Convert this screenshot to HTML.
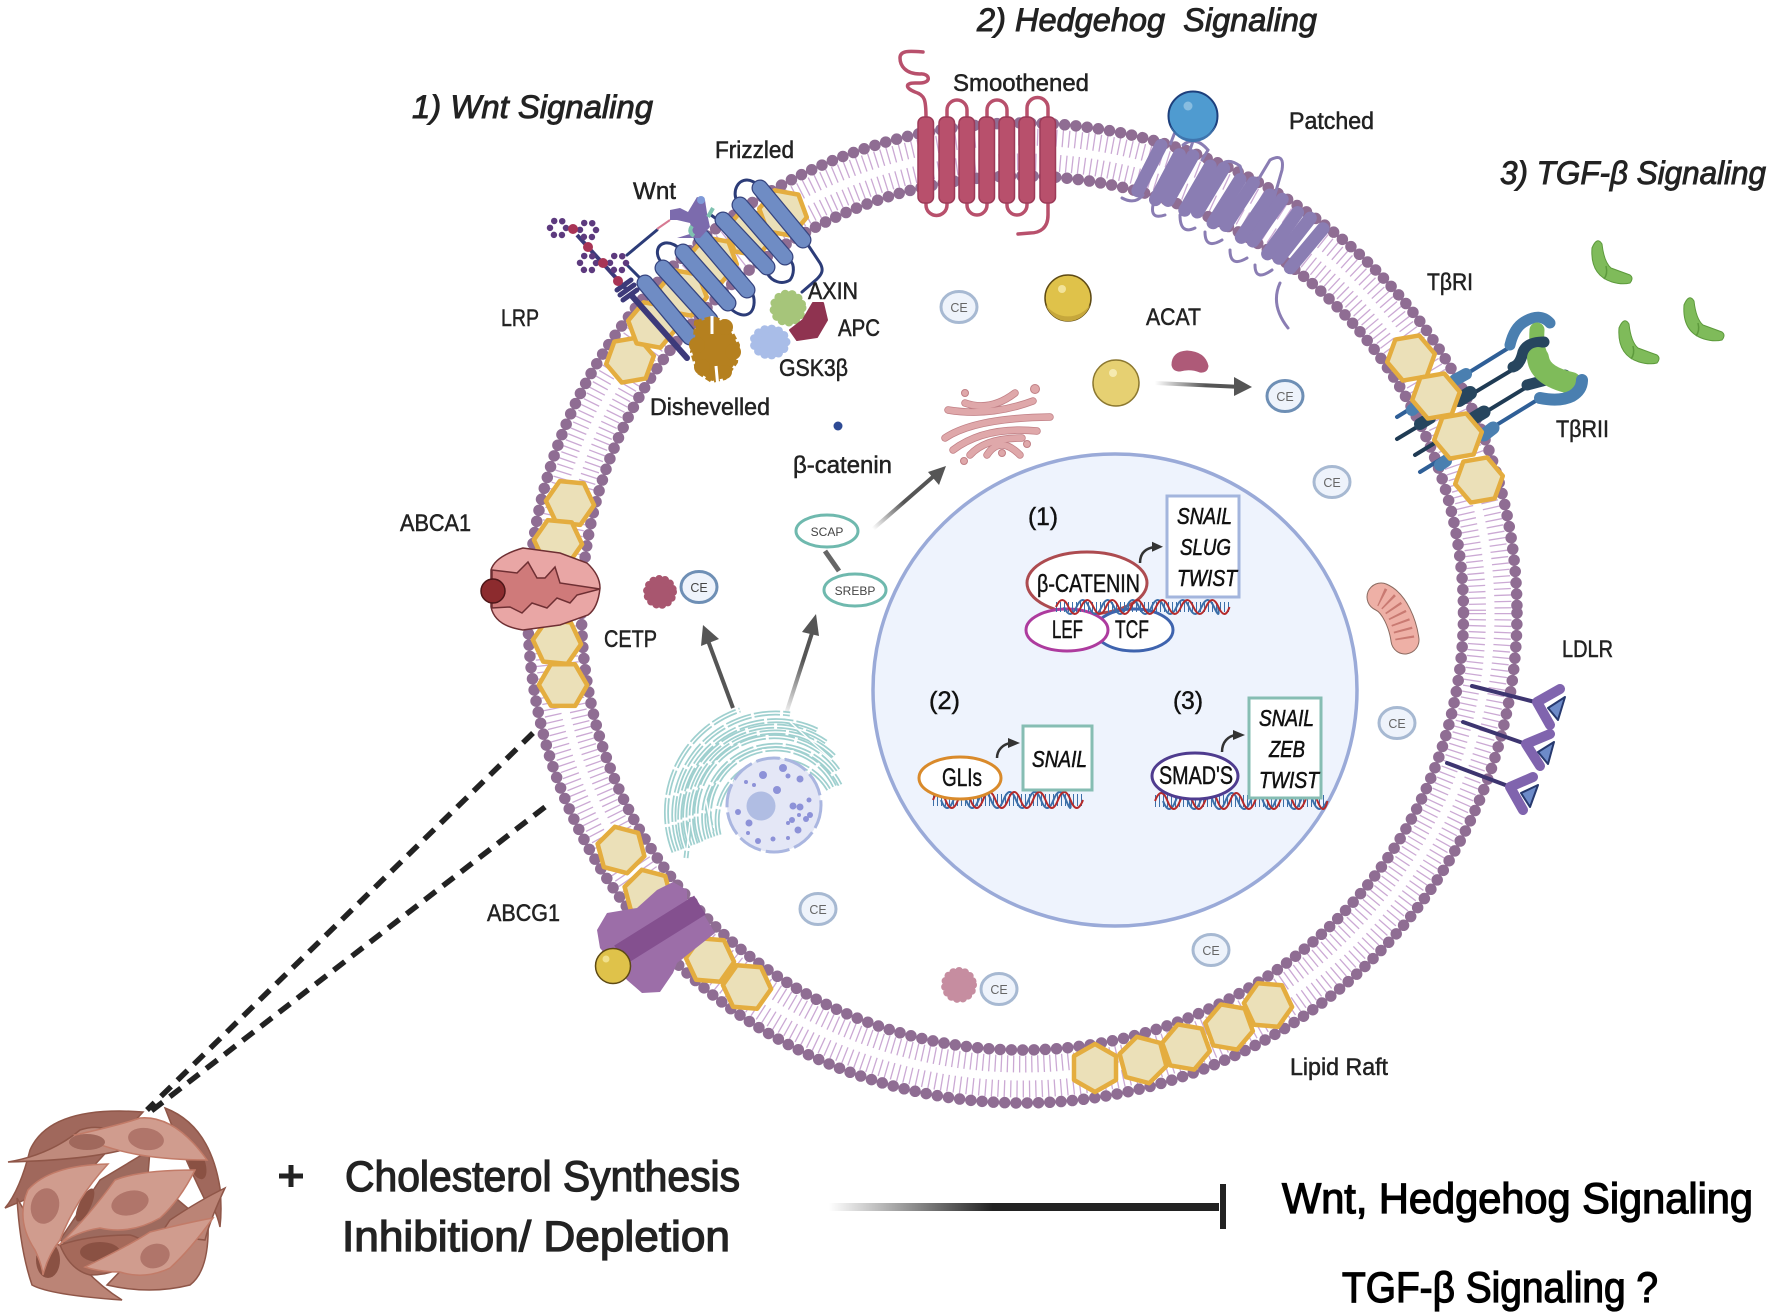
<!DOCTYPE html>
<html><head><meta charset="utf-8"><style>
html,body{margin:0;padding:0;background:#fff}
svg{display:block}
text{font-family:"Liberation Sans",sans-serif;fill:#222}
.l{font-size:24px;stroke:#222;stroke-width:.5}
.t{font-size:32px;font-style:italic;stroke:#222;stroke-width:.9}
.b{font-size:43px;stroke:#222;stroke-width:1.3}
.n{font-size:25px;fill:#111;stroke:#111;stroke-width:.45}
.i{font-size:23px;font-style:italic;fill:#111;stroke:#111;stroke-width:.55}
.ce{font-size:12.5px;fill:#666;text-anchor:middle}
.c{fill:#eef3fb;stroke:#a7b9d2;stroke-width:3}
.s{fill:#fff;stroke:#6fb9ae;stroke-width:3}
</style></head><body>
<svg width="1772" height="1313" viewBox="0 0 1772 1313" xmlns="http://www.w3.org/2000/svg">
<defs>
<linearGradient id="g1" gradientUnits="userSpaceOnUse" x1="873" y1="529" x2="935" y2="475"><stop offset="0" stop-color="#fff"/><stop offset=".5" stop-color="#555"/></linearGradient>
<linearGradient id="g2" gradientUnits="userSpaceOnUse" x1="1155" y1="383" x2="1240" y2="387"><stop offset="0" stop-color="#fff"/><stop offset=".6" stop-color="#555"/></linearGradient>
<linearGradient id="g3" gradientUnits="userSpaceOnUse" x1="785" y1="717" x2="810" y2="635"><stop offset="0" stop-color="#fff"/><stop offset=".7" stop-color="#555"/></linearGradient>
<linearGradient id="g4" gradientUnits="userSpaceOnUse" x1="829" y1="1207" x2="1219" y2="1207"><stop offset="0" stop-color="#fff"/><stop offset=".42" stop-color="#222"/></linearGradient>
<polygon id="h" points="0,-24 21,-12 21,12 0,24 -21,12 -21,-12" fill="#ebe0b8" stroke="#e4ad3f" stroke-width="4.5" stroke-linejoin="round"/>
<g id="fz" fill="none" stroke-linecap="round">
<path d="M760 188L803 240M740 205L785 257M723 220L767 267M702 237L747 290M683 252L728 303M663 268L710 320M645 283L690 337"/>
</g>
<g id="er" fill="none">
<path d="M719 835A60 60 0 0 1 829 790M713 837A66 66 0 0 1 835 787M707 839A72 72 0 0 1 840 785M701 842A78 78 0 0 1 838 770M696 844A84 84 0 0 1 834 756M690 846A90 90 0 0 1 826 742M685 848A96 96 0 0 1 817 730M680 850A102 102 0 0 1 790 714M674 852A108 108 0 0 1 740 710"/>
<path d="M690 822L686 858M706 800L712 832M790 722L832 760"/>
</g>
<g id="gol" fill="none" stroke-linecap="round">
<path d="M965 403Q990 412 1015 393M948 410Q990 417 1033 401M945 438Q975 418 1050 417M953 450Q985 426 1037 431M970 455Q985 438 1022 438M987 455Q1000 435 1020 455"/>
</g>
<g id="cr"><path d="M1592 248Q1590 275 1612 282Q1622 285 1630 283Q1634 278 1630 275L1611 268Q1604 262 1602 244Q1597 236 1592 248Z" fill="#7fbb5a" stroke="#5d9a3c" stroke-width="1"/><path d="M1606 266Q1608 274 1604 279" fill="none" stroke="#5d9a3c" stroke-width="1.500"/></g>
</defs>
<rect width="1772" height="1313" fill="#fff"/>

<!-- membrane -->
<ellipse cx="1022.5" cy="613" rx="480.5" ry="476" fill="none" stroke="#cba9d4" stroke-width="17" stroke-dasharray="1.300 5"/>
<ellipse cx="1022.5" cy="613" rx="455" ry="451" fill="none" stroke="#cba9d4" stroke-width="17" stroke-dasharray="1.300 4.800"/>
<ellipse cx="1022.5" cy="613" rx="494.5" ry="490" fill="none" stroke="#8f6d93" stroke-width="11.500" stroke-dasharray="0 11.3" stroke-linecap="round"/>
<ellipse cx="1022.5" cy="613" rx="441" ry="437" fill="none" stroke="#8f6d93" stroke-width="11.500" stroke-dasharray="0 11.3" stroke-linecap="round"/>

<!-- rafts -->
<use href="#h" transform="translate(630 360) rotate(20)"/><use href="#h" transform="translate(652 325) rotate(40)"/>
<use href="#h" transform="translate(683 293) rotate(40)"/><use href="#h" transform="translate(713 260) rotate(40)"/>
<use href="#h" transform="translate(750 233) rotate(40)"/><use href="#h" transform="translate(783 213) rotate(40)"/>
<use href="#h" transform="translate(570 503) rotate(35)"/><use href="#h" transform="translate(558 542) rotate(35)"/>
<use href="#h" transform="translate(557 642) rotate(35)"/><use href="#h" transform="translate(563 685) rotate(30)"/>
<use href="#h" transform="translate(621 850) rotate(-15)"/><use href="#h" transform="translate(648 893) rotate(-15)"/>
<use href="#h" transform="translate(710 960) rotate(-25)"/><use href="#h" transform="translate(747 987) rotate(-25)"/>
<use href="#h" transform="translate(1095 1068)"/><use href="#h" transform="translate(1143 1060) rotate(-15)"/>
<use href="#h" transform="translate(1186 1047) rotate(-20)"/><use href="#h" transform="translate(1229 1027) rotate(-20)"/>
<use href="#h" transform="translate(1268 1005) rotate(-25)"/>

<!-- TGF receptors -->
<g fill="none" stroke-linecap="round">
<path d="M1397 417L1510 347" stroke="#2f5f97" stroke-width="4"/>
<path d="M1397 439L1517 367M1415 455L1530 385" stroke="#1f3b54" stroke-width="4"/>
<path d="M1420 472L1542 397" stroke="#2f5f97" stroke-width="4"/>
<path d="M1510 345Q1514 328 1524 322Q1540 312 1550 323" stroke="#4a7fb0" stroke-width="11"/>
<path d="M1527 385L1565 375" stroke="#27465f" stroke-width="11"/>
<path d="M1537 330Q1536 345 1539 352" stroke="#7fbb5a" stroke-width="15"/>
<path d="M1513 367Q1520 365 1523 352Q1527 342 1544 342" stroke="#27465f" stroke-width="11"/>
<path d="M1538 358Q1540 376 1571 383" stroke="#7fbb5a" stroke-width="22"/>
<path d="M1540 398Q1560 402 1572 396Q1582 390 1582 380" stroke="#4a7fb0" stroke-width="12"/>
<path d="M1455 380L1466 374" stroke="#4a7fb0" stroke-width="12"/><path d="M1459 400L1470 393" stroke="#27465f" stroke-width="14"/>
<path d="M1474 418L1484 412" stroke="#27465f" stroke-width="13"/><path d="M1484 435L1493 428" stroke="#4a7fb0" stroke-width="13"/>
<path d="M1412 410L1418 405" stroke="#4a7fb0" stroke-width="12"/><path d="M1420 424L1430 418" stroke="#27465f" stroke-width="12"/>
<path d="M1440 465L1446 461" stroke="#4a7fb0" stroke-width="12"/>
</g>
<use href="#h" transform="translate(1411 358) rotate(20)"/><use href="#h" transform="translate(1436 396) rotate(20)"/>
<use href="#h" transform="translate(1458 436) rotate(20)"/><use href="#h" transform="translate(1479 480) rotate(20)"/>
<use href="#cr"/><use href="#cr" transform="translate(27 80)"/><use href="#cr" transform="translate(92 57)"/>

<!-- Smoothened -->
<g fill="none" stroke="#b8506c" stroke-width="3.5" stroke-linecap="round">
<path d="M926 118C926 100 925 95 915 92C905 88 905 83 915 83L920 83C932 83 930 73 920 74C905 74 900 65 900 58C900 50 910 51 923 52"/>
<path d="M947 120V110A10 10 0 0 1 967 110V120M987 120V110A10 10 0 0 1 1007 110V120M1027 120V108A10.500 10.500 0 0 1 1048 108V120"/>
<path d="M926 200V205A10.500 10.500 0 0 0 947 205V200M967 200V205A10 10 0 0 0 987 205V200M1007 200V205A10 10 0 0 0 1027 205V200"/>
<path d="M1048 203V215C1048 228 1040 233 1030 233L1018 234"/>
</g>
<g fill="#b8506c" stroke="#9c3a58" stroke-width="1.500">
<rect x="918" y="117" width="15.500" height="86" rx="6"/><rect x="939" y="117" width="15.500" height="86" rx="6"/><rect x="959" y="117" width="15.500" height="86" rx="6"/><rect x="979" y="117" width="15.500" height="86" rx="6"/><rect x="999" y="117" width="15.500" height="86" rx="6"/><rect x="1019" y="117" width="15.500" height="86" rx="6"/><rect x="1040" y="117" width="15.500" height="86" rx="6"/>
</g>

<!-- Patched -->
<g fill="none" stroke="#8a7db3" stroke-width="3" stroke-linecap="round">
<path d="M1183 145Q1195 135 1208 150L1202 160"/>
<path d="M1218 170Q1225 155 1240 166Q1243 172 1240 185"/>
<path d="M1255 185L1270 160Q1285 152 1282 170L1272 205"/>
<path d="M1122 198Q1135 205 1143 195M1153 205Q1150 220 1165 215M1180 215Q1180 235 1195 228M1205 232Q1205 250 1222 240M1230 250Q1230 268 1247 258M1255 265Q1255 282 1272 270"/>
<path d="M1280 283Q1270 305 1288 328"/>
</g>
<g fill="#8a7db3">
<rect x="-6.500" y="-33" width="13" height="64" rx="6.500" transform="translate(1149 169) rotate(27)"/>
<rect x="-6.500" y="-33" width="13" height="64" rx="6.500" transform="translate(1167 178) rotate(28)"/>
<rect x="-6.500" y="-33" width="13" height="64" rx="6.500" transform="translate(1180 179) rotate(29)"/>
<rect x="-6.500" y="-33" width="13" height="64" rx="6.500" transform="translate(1197 189) rotate(30)"/>
<rect x="-6.500" y="-33" width="13" height="64" rx="6.500" transform="translate(1210 191) rotate(31)"/>
<rect x="-6.500" y="-33" width="13" height="64" rx="6.500" transform="translate(1226 202) rotate(32)"/>
<rect x="-6.500" y="-33" width="13" height="64" rx="6.500" transform="translate(1239 205) rotate(33)"/>
<rect x="-6.500" y="-33" width="13" height="64" rx="6.500" transform="translate(1255 217) rotate(34)"/>
<rect x="-6.500" y="-33" width="13" height="64" rx="6.500" transform="translate(1267 221) rotate(35)"/>
<rect x="-6.500" y="-33" width="13" height="64" rx="6.500" transform="translate(1282 234) rotate(36)"/>
<rect x="-6.500" y="-33" width="13" height="64" rx="6.500" transform="translate(1294 239) rotate(38)"/>
<rect x="-6.500" y="-33" width="13" height="64" rx="6.500" transform="translate(1306 249) rotate(40)"/>
</g>
<path d="M1170 145L1175 132M1190 150L1195 135" stroke="#8a7db3" stroke-width="3"/>
<circle cx="1193" cy="116" r="24.500" fill="#4f9bd0" stroke="#1d3f7c" stroke-width="2"/>
<path d="M1170 125A24 24 0 0 0 1216 125A26 26 0 0 1 1170 125Z" fill="#3f75ae"/>
<circle cx="1188" cy="106" r="4.500" fill="#88bde0"/>

<!-- Wnt / LRP / Frizzled -->
<g fill="none" stroke="#2c3c78" stroke-width="3" stroke-linecap="round">
<path d="M737 202C732 190 738 180 747 180C752 180 757 184 760 187"/>
<path d="M662 263C655 255 656 245 665 243C672 242 678 247 681 250"/>
<path d="M730 308C736 314 745 318 751 312C755 307 755 298 752 293"/>
<path d="M790 260C795 265 794 275 790 280C782 285 772 282 767 273"/>
<path d="M808 245L820 263C824 270 822 274 817 279L802 292"/>
<path d="M627 255L657 230"/><path d="M627 265L645 283"/>
<path d="M711 215L725 225"/>
</g>
<path d="M657 229L670 220" stroke="#d77a92" stroke-width="2"/>
<use href="#fz" stroke="#36447f" stroke-width="17"/>
<use href="#fz" stroke="#6f8cc4" stroke-width="14.500"/>
<path d="M670 210L680 208L688 212L697 197L705 200L707 213L710 227L700 238L677 238L693 233L690 223L677 220L670 220Z" fill="#7c6bad"/>
<circle cx="701" cy="200" r="4" fill="#7f9ad8"/>
<path d="M692 226Q688 232 694 236" stroke="#7fc2b0" stroke-width="4" fill="none"/>
<path d="M708 217L713 208" stroke="#7fc2b0" stroke-width="4"/>
<path d="M577 235L627 290" stroke="#3d3a7a" stroke-width="4"/>
<path d="M632 296L687 358" stroke="#3d3a7a" stroke-width="6" stroke-linecap="round"/>
<g fill="none" stroke="#3d3a7a" stroke-width="5" stroke-linecap="round"><path d="M617 290L631 280M620 295L634 285M623 300L637 290"/></g>
<g fill="none" stroke="#5d3a7e" stroke-width="6.500" stroke-dasharray="0 8.380" stroke-linecap="round">
<circle cx="558" cy="228" r="8"/><circle cx="588" cy="230" r="8"/><circle cx="588" cy="263" r="8"/><circle cx="618" cy="263" r="8"/>
</g>
<g fill="#a83455"><circle cx="573" cy="229" r="5"/><circle cx="588" cy="247" r="5"/><circle cx="603" cy="263" r="5"/><circle cx="618" cy="281" r="5"/></g>

<!-- Wnt complex blobs -->
<g fill="#b5801f"><path d="M696 322L712 318L726 322L738 345L736 362L725 378L712 381L698 372L692 352L695 340Z" stroke="#b5801f" stroke-width="4" stroke-dasharray="6 3" stroke-linejoin="round"/><circle cx="697" cy="345" r="8"/><circle cx="733" cy="352" r="8"/><circle cx="702" cy="367" r="8"/><circle cx="725" cy="372" r="7"/><circle cx="725" cy="327" r="8"/></g>
<path d="M712 316L712 334M718 388L716 366" stroke="#fff" stroke-width="3"/>
<ellipse cx="770" cy="342" rx="16" ry="13" fill="#a9bde8" stroke="#a9bde8" stroke-width="9" stroke-dasharray="0 7" stroke-linecap="round"/>
<circle cx="788" cy="308" r="14" fill="#a6c57a" stroke="#a6c57a" stroke-width="9" stroke-dasharray="0 7" stroke-linecap="round"/>
<path d="M790 330L803 320L813 303L823 303L827 320L817 337L797 340Z" fill="#8f3350" stroke="#8f3350" stroke-width="2" stroke-linejoin="round"/>

<!-- ABCA1 -->
<path d="M491 570Q495 556 523 548L560 553L587 563Q600 575 600 588Q598 608 588 615L560 625L523 630Q495 626 491 607Z" fill="#e9a6a5" stroke="#6e2f33" stroke-width="1.500"/>
<path d="M492 570L517 573L528 562L537 578L545 578L555 567L560 583L600 589L577 595L570 603L557 598L547 608L532 603L522 613L510 607L492 608Z" fill="#cf7a7a" stroke="#6e2f33" stroke-width="1.500"/>
<circle cx="493" cy="591" r="12" fill="#8c2b2e" stroke="#4d1618" stroke-width="1.500"/>

<!-- ABCG1 -->
<path d="M607 913L637 908L657 890L673 882L687 890L687 903L703 913L715 933L677 963L673 973L660 992L642 993L627 980L600 948L597 930Z" fill="#9c6ea8"/>
<path d="M620 955L700 905" stroke="#84508f" stroke-width="22"/>
<circle cx="613" cy="966" r="17.500" fill="#dfc24a" stroke="#5e4a14" stroke-width="1.500"/>
<circle cx="606" cy="959" r="3.500" fill="#f0e08c"/>

<!-- LDLR -->
<path d="M1472 686L1535 702M1463 722L1523 743M1447 763L1508 786" stroke="#3d3570" stroke-width="4" stroke-linecap="round"/>
<g fill="none" stroke="#8064ae" stroke-width="10" stroke-linecap="round" stroke-linejoin="round">
<path d="M1560 689L1537 702L1550 725"/><path d="M1550 734L1526 744L1540 766"/><path d="M1533 777L1510 787L1523 810"/>
</g>
<g fill="#6d8bc9" stroke="#27396f" stroke-width="2" stroke-linejoin="round">
<polygon points="1565,697 1548,708 1558,720"/><polygon points="1554,742 1538,752 1548,764"/><polygon points="1538,785 1521,793 1530,807"/>
</g>

<!-- dashed lines -->
<g stroke="#222" stroke-width="5.500" stroke-dasharray="14 9" fill="none">
<path d="M533 733L147 1110"/><path d="M545 807L150 1112"/>
</g>

<!-- nucleus -->
<ellipse cx="1115" cy="690" rx="242" ry="236" fill="#eef3fd" stroke="#9aaad8" stroke-width="3.500"/>

<!-- Golgi, arrows, etc. -->
<use href="#gol" stroke="#c07f85" stroke-width="7.500"/><use href="#gol" stroke="#dfa8aa" stroke-width="6"/>
<g fill="#dfa8aa" stroke="#c07f85"><circle cx="965" cy="393" r="3.500"/><circle cx="1035" cy="389" r="4.500"/><circle cx="964" cy="461" r="3.500"/><circle cx="1002" cy="453" r="3.500"/><circle cx="1027" cy="444" r="3.500"/></g>
<circle cx="838" cy="426" r="4.500" fill="#2e4a94"/>

<circle cx="1068" cy="298" r="23" fill="#dfc24a" stroke="#5e4a14" stroke-width="1.500"/>
<path d="M1046 305A23 23 0 0 0 1090 305A27 27 0 0 1 1046 305Z" fill="#c6a73c"/>
<circle cx="1062" cy="289" r="4" fill="#f2e39a"/>
<circle cx="1116" cy="383" r="23" fill="#e6d072" stroke="#8c7830" stroke-width="1.500"/>
<circle cx="1113" cy="373" r="4" fill="#f5eab0"/>
<path d="M1172 365Q1172 352 1187 351Q1205 352 1208 366Q1207 373 1200 372Q1190 368 1180 371Q1173 371 1172 365Z" fill="#ae5a78" stroke="#ae5a78"/>

<path d="M1155 383L1242 387" stroke="url(#g2)" stroke-width="4" fill="none"/>
<polygon points="1234,377 1252,387 1234,396" fill="#555"/>
<path d="M873 529L935 475" stroke="url(#g1)" stroke-width="4" fill="none"/>
<polygon points="946,466 928,472 939,485" fill="#555"/>
<path d="M733 708L707 638" stroke="#555" stroke-width="4"/>
<polygon points="703,625 701,646 719,639" fill="#555"/>
<path d="M785 717L813 630" stroke="url(#g3)" stroke-width="4" fill="none"/>
<polygon points="816,614 802,632 819,636" fill="#555"/>

<!-- ER + cell nucleus -->
<use href="#er" stroke="#9fd0cf" stroke-width="5" stroke-dasharray="26 3"/>
<use href="#er" stroke="#fff" stroke-width="1.500"/>
<circle cx="774" cy="805" r="47" fill="#e4e7f6" stroke="#aab6e0" stroke-width="3" stroke-dasharray="24 5"/>
<circle cx="761" cy="806" r="14.500" fill="#b0bde3"/>
<g fill="#8d92d8"><circle cx="783" cy="768" r="4"/><circle cx="763" cy="775" r="4"/><circle cx="788" cy="776" r="2.500"/><circle cx="800" cy="779" r="3.500"/><circle cx="746" cy="782" r="2"/><circle cx="754" cy="785" r="2"/><circle cx="777" cy="790" r="4"/><circle cx="809" cy="800" r="2.500"/><circle cx="793" cy="806" r="3.500"/><circle cx="800" cy="807" r="3.500"/><circle cx="749" cy="823" r="3.500"/><circle cx="810" cy="815" r="3"/><circle cx="806" cy="819" r="3"/><circle cx="799" cy="815" r="2"/><circle cx="792" cy="820" r="3"/><circle cx="788" cy="823" r="2"/><circle cx="798" cy="830" r="3.500"/><circle cx="738" cy="812" r="3"/><circle cx="758" cy="841" r="3"/><circle cx="773" cy="839" r="2.500"/><circle cx="788" cy="838" r="2"/><circle cx="748" cy="833" r="2"/></g>

<!-- CETP blobs -->
<circle cx="660" cy="592" r="13" fill="#a8566f" stroke="#a8566f" stroke-width="8" stroke-dasharray="0 6" stroke-linecap="round"/>
<circle cx="959" cy="985" r="14" fill="#c68da0" stroke="#c68da0" stroke-width="8" stroke-dasharray="0 6" stroke-linecap="round"/>

<!-- Mitochondrion -->
<path d="M1381 597C1395 603 1403 625 1405 640" fill="none" stroke="#8a6a60" stroke-width="29" stroke-linecap="round"/>
<path d="M1381 597C1395 603 1403 625 1405 640" fill="none" stroke="#eeb0a6" stroke-width="27" stroke-linecap="round"/>
<path d="M1381 597C1395 603 1403 625 1405 640" fill="none" stroke="#c97a72" stroke-width="19" stroke-dasharray="2 6"/>

<!-- CE -->
<ellipse class="c" cx="959" cy="307" rx="18" ry="15.500"/><text class="ce" x="959" y="312">CE</text>
<ellipse class="c" style="stroke:#6e8fb5" cx="1285" cy="396" rx="18" ry="15.500"/><text class="ce" x="1285" y="401">CE</text>
<ellipse class="c" cx="1332" cy="482" rx="18" ry="15.500"/><text class="ce" x="1332" y="487">CE</text>
<ellipse class="c" cx="1397" cy="723" rx="18" ry="15.500"/><text class="ce" x="1397" y="728">CE</text>
<ellipse class="c" cx="818" cy="909" rx="18" ry="15.500"/><text class="ce" x="818" y="914">CE</text>
<ellipse class="c" cx="1211" cy="950" rx="18" ry="15.500"/><text class="ce" x="1211" y="955">CE</text>
<ellipse class="c" cx="999" cy="989" rx="18" ry="15.500"/><text class="ce" x="999" y="994">CE</text>
<ellipse class="c" style="stroke:#6e8fb5" cx="699" cy="587" rx="18" ry="15.500"/><text class="ce" style="fill:#444" x="699" y="592">CE</text>

<!-- SCAP / SREBP -->
<path d="M825 551L839 571" stroke="#666" stroke-width="5"/>
<ellipse class="s" cx="827" cy="531" rx="31" ry="16"/><text x="827" y="536" text-anchor="middle" font-size="12" style="fill:#444">SCAP</text>
<ellipse class="s" cx="855" cy="590" rx="31" ry="16"/><text x="855" y="595" text-anchor="middle" font-size="12" style="fill:#444">SREBP</text>

<!-- nucleus content 1 -->
<ellipse cx="1087" cy="583" rx="60" ry="31" fill="#fff" stroke="#ad4b50" stroke-width="3"/>
<ellipse cx="1134" cy="630" rx="39" ry="21" fill="#fff" stroke="#3e63ae" stroke-width="3"/>
<ellipse cx="1067" cy="630" rx="41" ry="21" fill="#fff" stroke="#ad3b9e" stroke-width="3"/>
<g fill="none" stroke-width="2">
<path d="M1056 607h174" stroke="#3b6ea8" stroke-width="10" stroke-dasharray="1 3"/>
<path d="M1064 607q6.250 14 12.500 0t12.500 0t12.500 0t12.500 0t12.500 0t12.500 0t12.500 0t12.500 0t12.500 0t12.500 0t12.500 0t12.500 0t4 0" stroke="#3b6ea8"/>
<path d="M1056 607q6.250 -14 12.500 0t12.500 0t12.500 0t12.500 0t12.500 0t12.500 0t12.500 0t12.500 0t12.500 0t12.500 0t12.500 0t12.500 0t12.500 0t11 0" stroke="#b52a2a"/>
</g>
<rect x="1167" y="496" width="72" height="101" fill="#fff" stroke="#a3b5dd" stroke-width="3"/>
<path d="M1140 563C1140 552 1147 548 1155 547" fill="none" stroke="#333" stroke-width="2.500"/>
<polygon points="1152,541.700 1163,546.700 1152,551.700" fill="#333"/>
<text class="n" x="1028" y="525" textLength="30" lengthAdjust="spacingAndGlyphs">(1)</text>
<text class="i" x="1177" y="524" textLength="55" lengthAdjust="spacingAndGlyphs">SNAIL</text>
<text class="i" x="1180" y="555" textLength="51" lengthAdjust="spacingAndGlyphs">SLUG</text>
<text class="i" x="1177" y="586" textLength="60" lengthAdjust="spacingAndGlyphs">TWIST</text>
<text class="n" x="1037" y="592" textLength="103" lengthAdjust="spacingAndGlyphs">β-CATENIN</text>
<text class="n" x="1052" y="638" textLength="31" lengthAdjust="spacingAndGlyphs">LEF</text>
<text class="n" x="1115" y="638" textLength="34" lengthAdjust="spacingAndGlyphs">TCF</text>

<!-- nucleus content 2 -->
<g fill="none" stroke-width="2">
<path d="M933 800h150" stroke="#3b6ea8" stroke-width="12" stroke-dasharray="1 3"/>
<path d="M941 800q6.250 16 12.500 0t12.500 0t12.500 0t12.500 0t12.500 0t12.500 0t12.500 0t12.500 0t12.500 0t12.500 0t4 0" stroke="#3b6ea8"/>
<path d="M933 800q6.250 -16 12.500 0t12.500 0t12.500 0t12.500 0t12.500 0t12.500 0t12.500 0t12.500 0t12.500 0t12.500 0t12.500 0t12.500 0" stroke="#b52a2a"/>
</g>
<ellipse cx="960" cy="778" rx="41" ry="21" fill="#fff" stroke="#d98a2b" stroke-width="3"/>
<rect x="1023" y="726" width="69" height="64" fill="#fff" stroke="#86bdb3" stroke-width="3"/>
<path d="M997 758C997 750 1003 744 1011 743" fill="none" stroke="#333" stroke-width="2.500"/>
<polygon points="1008,738 1020,743 1008,748" fill="#333"/>
<text class="n" x="929" y="709" textLength="31" lengthAdjust="spacingAndGlyphs">(2)</text>
<text class="n" x="942" y="786" textLength="40" lengthAdjust="spacingAndGlyphs">GLIs</text>
<text class="i" x="1032" y="767" textLength="55" lengthAdjust="spacingAndGlyphs">SNAIL</text>

<!-- nucleus content 3 -->
<g fill="none" stroke-width="2">
<path d="M1155 801h172" stroke="#3b6ea8" stroke-width="12" stroke-dasharray="1 3"/>
<path d="M1163 801q6.250 16 12.500 0t12.500 0t12.500 0t12.500 0t12.500 0t12.500 0t12.500 0t12.500 0t12.500 0t12.500 0t12.500 0t12.500 0t14 0" stroke="#3b6ea8"/>
<path d="M1155 801q6.250 -16 12.500 0t12.500 0t12.500 0t12.500 0t12.500 0t12.500 0t12.500 0t12.500 0t12.500 0t12.500 0t12.500 0t12.500 0t12.500 0t10 0" stroke="#b52a2a"/>
</g>
<ellipse cx="1195" cy="776" rx="43" ry="23" fill="#fff" stroke="#4f3c8f" stroke-width="3"/>
<rect x="1249" y="698" width="72" height="100" fill="#fff" stroke="#86bdb3" stroke-width="3"/>
<path d="M1222 752C1222 742 1228 736 1236 735" fill="none" stroke="#333" stroke-width="2.500"/>
<polygon points="1233,730 1245,735 1233,740" fill="#333"/>
<text class="n" x="1173" y="709" textLength="30" lengthAdjust="spacingAndGlyphs">(3)</text>
<text class="n" x="1159" y="784" textLength="74" lengthAdjust="spacingAndGlyphs">SMAD'S</text>
<text class="i" x="1259" y="726" textLength="55" lengthAdjust="spacingAndGlyphs">SNAIL</text>
<text class="i" x="1269" y="757" textLength="36" lengthAdjust="spacingAndGlyphs">ZEB</text>
<text class="i" x="1259" y="788" textLength="60" lengthAdjust="spacingAndGlyphs">TWIST</text>

<!-- Cells -->
<g stroke="#8f5648" stroke-width="1.500">
<path d="M143 1112Q50 1105 30 1150Q20 1190 5 1208Q50 1190 90 1170Z" fill="#a0685c"/>
<path d="M165 1108Q210 1125 220 1188Q222 1210 220 1227Q215 1205 205 1200Q185 1160 165 1108Z" fill="#a0685c"/>
<path d="M100 1180L150 1150L148 1175L190 1210L170 1235L100 1270L60 1240Z" fill="#9d6a5e"/>
<path d="M17 1198Q20 1250 32 1285Q50 1295 122 1300Q90 1280 70 1250Q40 1240 17 1198Z" fill="#bb8476"/>
<path d="M107 1285Q150 1295 190 1285Q210 1270 208 1220L150 1240Z" fill="#bb8476"/>
<path d="M170 1220Q200 1200 225 1188Q210 1220 205 1240L160 1235Z" fill="#bb8476"/>
<path d="M60 1245Q90 1235 130 1235Q150 1240 140 1255Q120 1275 90 1275Q70 1270 60 1245Z" fill="#a5695a"/>
<path d="M8 1162Q50 1155 80 1130Q110 1120 130 1148Q90 1160 8 1162Z" fill="#bf8a7c"/>
</g>
<g fill="#8a5143"><ellipse cx="100" cy="1252" rx="20" ry="10"/><ellipse cx="48" cy="1260" rx="12" ry="18"/><ellipse cx="197" cy="1163" rx="8" ry="17" transform="rotate(-20 197 1163)"/><ellipse cx="85" cy="1205" rx="6" ry="18" transform="rotate(25 85 1205)"/></g>
<g fill="#d09c8e" stroke="#c27b68" stroke-width="1.500">
<path d="M75 1135Q120 1125 140 1118Q175 1115 207 1160Q170 1160 140 1155Q110 1150 75 1135Z"/>
<path d="M108 1164Q50 1165 28 1190Q15 1220 35 1250Q42 1265 43 1275Q48 1255 60 1240Q75 1200 108 1164Z"/>
<path d="M59 1245Q90 1215 115 1180Q140 1170 195 1170Q180 1200 160 1218Q130 1235 100 1228Q75 1232 59 1245Z"/>
<path d="M85 1267Q130 1245 150 1232Q190 1222 213 1218Q190 1250 170 1268Q145 1280 120 1272Q100 1272 85 1267Z"/>
</g>
<g fill="#b0756a"><ellipse cx="146" cy="1139" rx="18" ry="11" transform="rotate(8 146 1139)"/><ellipse cx="45" cy="1206" rx="14" ry="18" transform="rotate(15 45 1206)"/><ellipse cx="130" cy="1203" rx="19" ry="12" transform="rotate(-15 130 1203)"/><ellipse cx="155" cy="1256" rx="15" ry="12" transform="rotate(-20 155 1256)"/></g>
<ellipse cx="87" cy="1142" rx="18" ry="8" fill="#a0685c"/>

<!-- Bottom -->
<path d="M829 1207H1219" stroke="url(#g4)" stroke-width="8"/>
<path d="M1223 1184V1229" stroke="#222" stroke-width="6"/>
<path d="M291 1165V1187M279 1176H303" stroke="#222" stroke-width="5"/>
<text class="b" x="345" y="1191" textLength="395" lengthAdjust="spacingAndGlyphs">Cholesterol Synthesis</text>
<text class="b" x="342" y="1251" textLength="388" lengthAdjust="spacingAndGlyphs">Inhibition/ Depletion</text>
<text class="b" x="1282" y="1213" textLength="471" lengthAdjust="spacingAndGlyphs" style="fill:#000;stroke:#000">Wnt, Hedgehog Signaling</text>
<text class="b" x="1342" y="1302" textLength="316" lengthAdjust="spacingAndGlyphs" style="fill:#000;stroke:#000">TGF-β Signaling ?</text>

<!-- titles -->
<text class="t" x="977" y="31" textLength="340" lengthAdjust="spacingAndGlyphs" xml:space="preserve">2) Hedgehog  Signaling</text>
<text class="t" x="412" y="118" textLength="241" lengthAdjust="spacingAndGlyphs">1) Wnt Signaling</text>
<text class="t" x="1500" y="184" textLength="266" lengthAdjust="spacingAndGlyphs">3) TGF-β Signaling</text>

<!-- labels -->
<text class="l" x="953" y="91" textLength="136" lengthAdjust="spacingAndGlyphs">Smoothened</text>
<text class="l" x="1289" y="129" textLength="85" lengthAdjust="spacingAndGlyphs">Patched</text>
<text class="l" x="715" y="158" textLength="79" lengthAdjust="spacingAndGlyphs">Frizzled</text>
<text class="l" x="633" y="199" textLength="43" lengthAdjust="spacingAndGlyphs">Wnt</text>
<text class="l" x="501" y="326" textLength="38" lengthAdjust="spacingAndGlyphs">LRP</text>
<text class="l" x="808" y="299" textLength="50" lengthAdjust="spacingAndGlyphs">AXIN</text>
<text class="l" x="838" y="336" textLength="42" lengthAdjust="spacingAndGlyphs">APC</text>
<text class="l" x="779" y="376" textLength="69" lengthAdjust="spacingAndGlyphs">GSK3β</text>
<text class="l" x="650" y="415" textLength="120" lengthAdjust="spacingAndGlyphs">Dishevelled</text>
<text class="l" x="793" y="473" textLength="99" lengthAdjust="spacingAndGlyphs">β-catenin</text>
<text class="l" x="1146" y="325" textLength="55" lengthAdjust="spacingAndGlyphs">ACAT</text>
<text class="l" x="1427" y="290" textLength="46" lengthAdjust="spacingAndGlyphs">TβRI</text>
<text class="l" x="1556" y="437" textLength="53" lengthAdjust="spacingAndGlyphs">TβRII</text>
<text class="l" x="1562" y="657" textLength="51" lengthAdjust="spacingAndGlyphs">LDLR</text>
<text class="l" x="1290" y="1075" textLength="98" lengthAdjust="spacingAndGlyphs">Lipid Raft</text>
<text class="l" x="400" y="531" textLength="71" lengthAdjust="spacingAndGlyphs">ABCA1</text>
<text class="l" x="604" y="647" textLength="53" lengthAdjust="spacingAndGlyphs">CETP</text>
<text class="l" x="487" y="921" textLength="73" lengthAdjust="spacingAndGlyphs">ABCG1</text>
</svg>
</body></html>
